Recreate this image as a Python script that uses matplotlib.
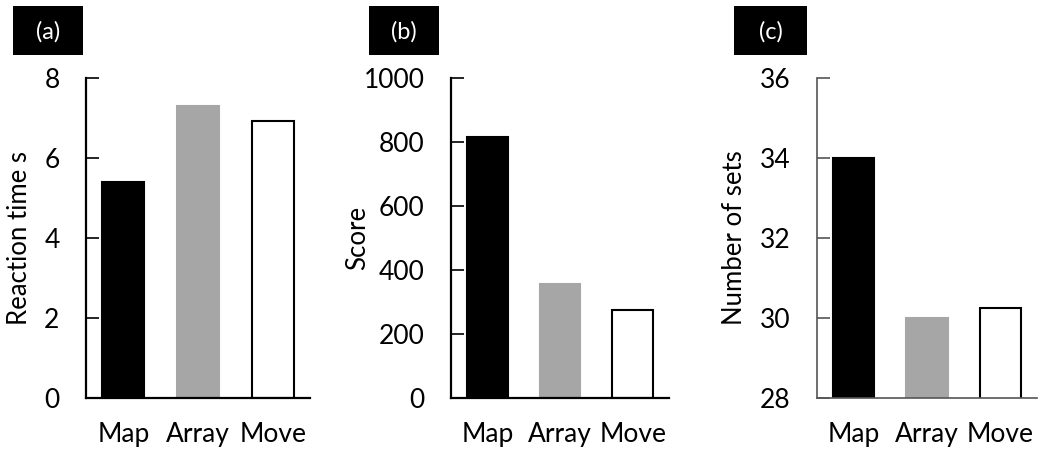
import matplotlib
matplotlib.use("Agg")
import matplotlib.pyplot as plt
from matplotlib.patches import Rectangle

plt.rcParams['font.family'] = ['Lato', 'DejaVu Sans']

conditions = ["Map", "Array", "Move"]
reaction_time = [5.39, 7.31, 6.92]
score = [817, 355, 275]
number_of_sets = [34.0, 30.0, 30.25]

panel_tags = ["(a)", "(b)", "(c)"]
y_labels = ["Reaction time s", "Score", "Number of sets"]
y_ticks = [[0, 2, 4, 6, 8], [0, 200, 400, 600, 800, 1000], [28, 30, 32, 34, 36]]
y_limits = [(0, 8), (0, 1000), (28, 36)]
series = [reaction_time, score, number_of_sets]

bar_faces = ["black", "#a6a6a6", "white"]
bar_edges = ["black", "#a6a6a6", "black"]

W, H = 1041, 457
fig = plt.figure(figsize=(W / 100, H / 100), dpi=100)

axes_boxes = [(86, 310), (451, 669), (817, 1037)]
tag_boxes = [(13, 83), (369, 439), (734, 807)]
top_px, bottom_px = 78, 398
ylabel_x = [20, 358, 735]
spine_colors = ["black", "black", "#555555"]

for i in range(3):
    x0, x1 = axes_boxes[i]
    ax = fig.add_axes([x0 / W, 1 - bottom_px / H, (x1 - x0) / W, (bottom_px - top_px) / H])
    ax.bar(range(3), series[i], width=0.56, color=bar_faces,
           edgecolor=bar_edges, linewidth=1.5)
    lo, hi = y_limits[i]
    ax.set_ylim(lo, hi)
    ax.set_xlim(-0.5, 2.5)
    ax.set_yticks(y_ticks[i])
    ax.set_xticks(range(3))
    ax.set_xticklabels(conditions)
    for s in ["top", "right"]:
        ax.spines[s].set_visible(False)
    for s in ["left", "bottom"]:
        ax.spines[s].set_color(spine_colors[i])
        ax.spines[s].set_linewidth(1.6 if i < 2 else 1.2)
    ax.tick_params(axis="y", direction="in", length=9, width=1.2,
                   color=spine_colors[i], labelsize=19, pad=19)
    ax.tick_params(axis="x", length=0, labelsize=19, pad=17)
    ax.set_ylabel(y_labels[i], fontsize=18.5)
    ax.yaxis.set_label_coords((ylabel_x[i] - x0) / (x1 - x0), 0.5)
    ax.yaxis.label.set_verticalalignment("center")

    # panel tag in a black box
    bx0, bx1 = tag_boxes[i]
    fig.patches.append(Rectangle((bx0 / W, 1 - 55 / H), (bx1 - bx0) / W, 49 / H,
                                 transform=fig.transFigure, facecolor="black",
                                 edgecolor="none", zorder=5))
    fig.text((bx0 + bx1) / 2 / W, 1 - 32 / H, panel_tags[i], color="white",
             fontsize=17, ha="center", va="center", zorder=6)

fig.savefig("out.png", dpi=100)
